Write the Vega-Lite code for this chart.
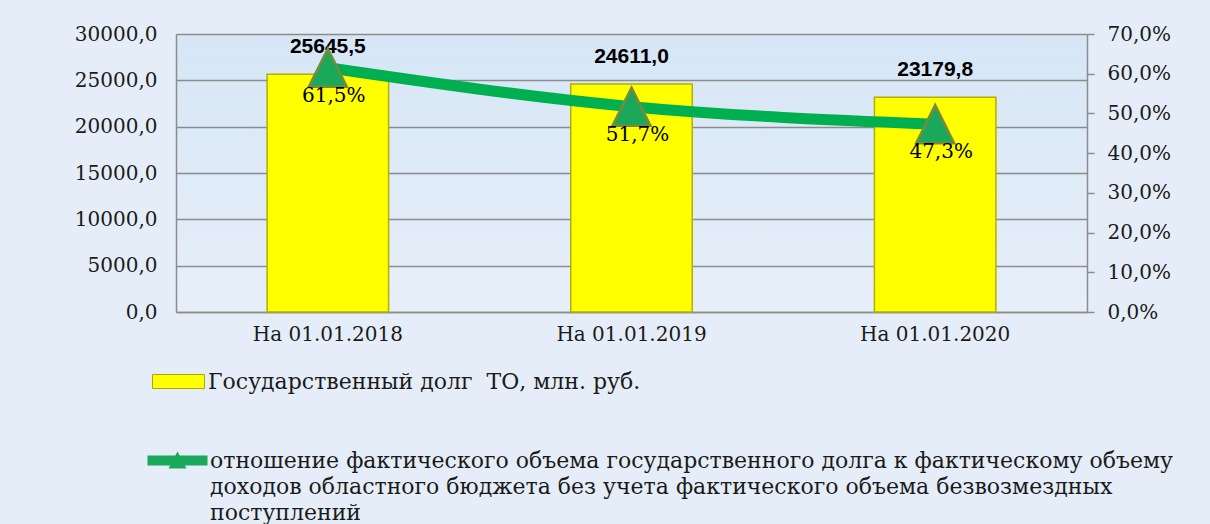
{
  "$schema": "https://vega.github.io/schema/vega-lite/v6.json",
  "width": 911,
  "height": 278,
  "autosize": {"type": "none"},
  "padding": {"left": 176, "top": 34, "right": 123, "bottom": 212},
  "background": "#e5eef8",
  "config": {
    "locale": {"number": {"decimal": ",", "thousands": "", "grouping": [3], "currency": ["", ""]}},
    "view": {"stroke": null, "fill": {"gradient": "linear", "x1": 0, "y1": 0, "x2": 0, "y2": 1, "stops": [{"offset": 0, "color": "#d6e6f6"}, {"offset": 1, "color": "#e7eff9"}]}},
    "font": "DejaVu Serif",
    "style": {"guide-label": {"lineHeight": 26}},
    "axis": {"labelFont": "DejaVu Serif", "labelFontSize": 20, "labelColor": "#1a1a1a", "domainColor": "#8c8c8c", "domainWidth": 1.5, "tickColor": "#8c8c8c", "tickWidth": 1.5, "gridColor": "#8c8c8c", "gridWidth": 1.5, "labelOverlap": false, "labelFlush": false}
  },
  "data": {
    "values": [
      {"d": "На 01.01.2018", "debt": 25645.5, "pct": 0.615},
      {"d": "На 01.01.2019", "debt": 24611.0, "pct": 0.517},
      {"d": "На 01.01.2020", "debt": 23179.8, "pct": 0.473}
    ]
  },
  "encoding": {
    "x": {
      "field": "d", "type": "nominal", "sort": null,
      "scale": {"paddingInner": 0.6, "paddingOuter": 0.3},
      "axis": {"title": null, "labelAngle": 0, "ticks": false, "tickSize": 0, "labelPadding": 12, "labelColor": "#1a1a1a"}
    }
  },
  "layer": [
    {
      "encoding": {
        "y": {
          "field": "debt", "type": "quantitative",
          "scale": {"domain": [0, 30000]},
          "axis": {"title": null, "orient": "left", "values": [0, 5000, 10000, 15000, 20000, 25000, 30000], "tickCount": 7, "format": ".1f", "grid": true, "ticks": false, "tickSize": 0, "labelPadding": 19}
        }
      },
      "layer": [
        {
          "mark": {"type": "bar", "stroke": "#b0b000", "strokeWidth": 1.5},
          "encoding": {
            "fill": {
              "datum": "Государственный долг\u00a0 ТО, млн. руб.",
              "scale": {"range": ["#ffff00"]},
              "legend": {
                "title": null, "orient": "none", "legendX": -24, "legendY": 321,
                "symbolType": "M-1,-0.27H1V0.27H-1Z", "symbolSize": 2704,
                "symbolStrokeColor": "#a8a800", "symbolStrokeWidth": 1, "symbolFillColor": "#ffff00",
                "labelFont": "DejaVu Serif", "labelFontSize": 22, "labelColor": "#1a1a1a", "labelLimit": 1100, "labelOffset": 3, "padding": 0
              }
            }
          }
        },
        {
          "mark": {"type": "text", "font": "Liberation Sans", "fontWeight": "bold", "fontSize": 21, "dy": -27, "baseline": "middle", "color": "#000000"},
          "encoding": {
            "text": {"field": "debt", "type": "quantitative", "format": ".1f"}
          }
        }
      ]
    },
    {
      "encoding": {
        "y": {
          "field": "pct", "type": "quantitative",
          "scale": {"domain": [0, 0.7]},
          "axis": {"title": null, "orient": "right", "values": [0, 0.1, 0.2, 0.3, 0.4, 0.5, 0.6, 0.7], "tickCount": 8, "format": ".1%", "grid": false, "tickSize": 7, "labelPadding": 13}
        }
      },
      "layer": [
        {
          "mark": {"type": "line", "interpolate": "monotone", "strokeWidth": 11, "color": "#00b050", "strokeCap": "round"},
          "encoding": {}
        },
        {
          "mark": {"type": "point", "filled": true, "shape": "M0,-1L1,1L-1,1Z", "fill": "#1aa85a", "stroke": "#7a8a3a", "strokeWidth": 2.5, "size": 1444},
          "encoding": {
            "opacity": {
              "datum": "отношение фактического объема государственного долга к фактическому объему|доходов областного бюджета без учета фактического объема безвозмездных|поступлений",
              "type": "nominal",
              "scale": {"range": [1, 1]},
              "legend": {
                "title": null, "orient": "none", "legendX": -29, "legendY": 396,
                "labelExpr": "split(datum.label, '|')",
                "symbolType": "M-1,-0.167H1V0.167H-1ZM0,-0.3L0.3,0.27L-0.3,0.27Z",
                "symbolSize": 3600,
                "symbolFillColor": "#00b050", "symbolStrokeColor": "#7a8a3a", "symbolStrokeWidth": 1,
                "labelFont": "DejaVu Serif", "labelFontSize": 22, "labelColor": "#1a1a1a", "labelLimit": 1100, "labelOffset": 2, "padding": 0,
                "encode": {"symbols": {"update": {"stroke": {"value": "#7a8a3a"}, "fill": {"value": "#00b050"}}}}
              }
            }
          }
        },
        {
          "mark": {"type": "text", "fontSize": 20, "dy": 28, "dx": 6, "baseline": "middle", "font": "DejaVu Serif", "color": "#000000"},
          "encoding": {
            "text": {"field": "pct", "type": "quantitative", "format": ".1%"}
          }
        }
      ]
    }
  ],
  "resolve": {"scale": {"y": "independent"}}
}
